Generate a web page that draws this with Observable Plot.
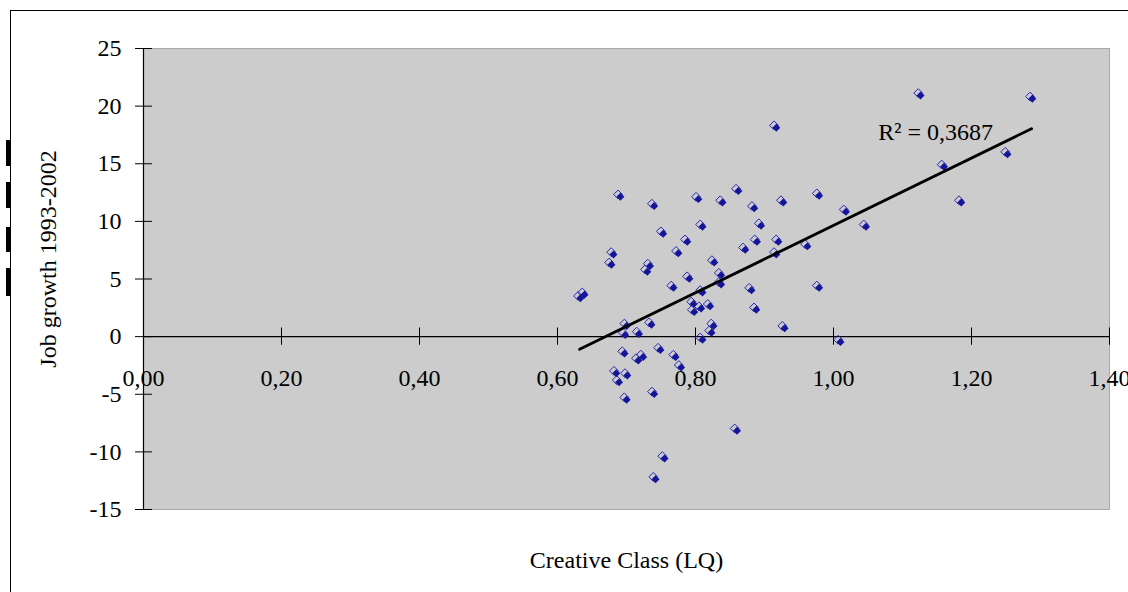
<!DOCTYPE html>
<html>
<head>
<meta charset="utf-8">
<script src="https://cdn.jsdelivr.net/npm/d3@7"></script>
<script src="https://cdn.jsdelivr.net/npm/@observablehq/plot@0.6"></script>
<style>
  html, body { margin: 0; padding: 0; background: #fff; }
  body { position: relative; width: 1128px; height: 592px; overflow: hidden; }
  #frame { position: absolute; left: 10px; top: 10px; width: 1200px; height: 700px; border: 1.5px solid #000; }
  .bar { position: absolute; left: 6px; width: 4px; background: #000; }
  #chart { position: absolute; left: 0; top: 0; }
</style>
</head>
<body>
<div id="frame"></div>
<div class="bar" style="top:140px;height:26px"></div>
<div class="bar" style="top:182px;height:26px"></div>
<div class="bar" style="top:227px;height:25px"></div>
<div class="bar" style="top:268px;height:28px"></div>
<div id="chart"></div>
<script>
// Creative Class location quotient (x) and job growth 1993-2002 (y)
const creativeClass = [
  0.632, 0.638, 0.677, 0.680, 0.690, 0.684, 0.688, 0.700, 0.699, 0.696,
  0.697, 0.699, 0.717, 0.716, 0.723, 0.729, 0.733, 0.735, 0.739, 0.739,
  0.741, 0.748, 0.752, 0.754, 0.767, 0.770, 0.774, 0.778, 0.787, 0.790,
  0.796, 0.797, 0.803, 0.807, 0.809, 0.809, 0.809, 0.820, 0.822, 0.825,
  0.826, 0.836, 0.836, 0.838, 0.859, 0.861, 0.871, 0.880, 0.884, 0.887,
  0.888, 0.894, 0.916, 0.916, 0.919, 0.926, 0.928, 0.961, 0.978, 0.978,
  1.009, 1.017, 1.046, 1.125, 1.159, 1.184, 1.251, 1.287
];
const jobGrowth = [
  3.4, 3.7, 6.3, 7.2, 12.2, -3.1, -3.9, -3.3, -5.4, -1.4,
  0.2, 1.0, 0.3, -2.0, -1.7, 5.7, 6.2, 1.1, 11.4, -4.9,
  -12.3, -1.1, 9.0, -10.5, 4.3, -1.7, 7.3, -2.6, 8.3, 5.1,
  2.9, 2.2, 12.0, 2.5, 9.6, 3.9, -0.2, 2.7, 0.4, 1.0,
  6.5, 5.4, 4.6, 11.7, -8.1, 12.7, 7.6, 4.1, 11.2, 2.4,
  8.3, 9.7, 18.2, 7.2, 8.3, 11.7, 0.8, 7.9, 12.3, 4.3,
  -0.4, 10.9, 9.6, 21.0, 14.8, 11.7, 15.9, 20.7
];
const xTicks = [0, 0.2, 0.4, 0.6, 0.8, 1.0, 1.2, 1.4];
const xTickLabels = ["0,00", "0,20", "0,40", "0,60", "0,80", "1,00", "1,20", "1,40"];
const yTicks = [-15, -10, -5, 0, 5, 10, 15, 20, 25];
const xTitle = "Creative Class (LQ)";
const yTitle = "Job growth 1993-2002";
const r2Label = "R\u00B2 = 0,3687";

const data = creativeClass.map((x, i) => ({x, y: jobGrowth[i]}));

const chart = Plot.plot({
  width: 1128,
  height: 592,
  marginLeft: 143,
  marginRight: 19,
  marginTop: 48,
  marginBottom: 83,
  style: {fontFamily: "'Liberation Serif', serif", fontSize: "24px", background: "transparent", color: "#000"},
  x: {domain: [0, 1.4], axis: null},
  y: {domain: [-15, 25]},
  marks: [
    Plot.frame({fill: "#cccccc", stroke: "#a8a8a8"}),
    Plot.ruleY([0], {stroke: "#000", strokeWidth: 1.2}),
    Plot.ruleX([0], {stroke: "#000", strokeWidth: 1.2}),
    Plot.ruleX(xTicks, {x: d => d, y1: () => -0.75, y2: () => 0.75, stroke: "#000", strokeWidth: 1}),
    Plot.ruleY(yTicks, {y: d => d, x1: () => 0, x2: () => 0.013, stroke: "#000", strokeWidth: 1}),
    Plot.axisY(yTicks, {tickSize: 8, tickPadding: 14, tickFormat: d => String(d), label: null, stroke: "#000", fill: "#000"}),
    Plot.text(xTicks, {x: d => d, y: () => 0, dy: 42, text: (d, i) => xTickLabels[i], fill: "#000"}),
    Plot.text([xTitle], {frameAnchor: "bottom", dy: 58, text: d => d, fill: "#000"}),
    Plot.text([yTitle], {frameAnchor: "left", textAnchor: "middle", dx: -95, dy: -20, rotate: -90, text: d => d, fill: "#000"}),
    Plot.dot(data, {x: "x", y: "y", symbol: "diamond2", r: 4, fill: "none", stroke: "#2828b8", strokeWidth: 1, dx: -1.5, dy: -1.5}),
    Plot.dot(data, {x: "x", y: "y", symbol: "diamond2", r: 3.6, fill: "#15159a", stroke: "none", dx: 0.8, dy: 0.8}),
    Plot.linearRegressionY(data, {x: "x", y: "y", stroke: "#000", strokeWidth: 2.8, ci: 0}),
    Plot.text([r2Label], {x: () => 1.065, y: () => 17.7, textAnchor: "start", text: d => d, fill: "#000"})
  ]
});
document.getElementById("chart").appendChild(chart);
</script>
</body>
</html>
